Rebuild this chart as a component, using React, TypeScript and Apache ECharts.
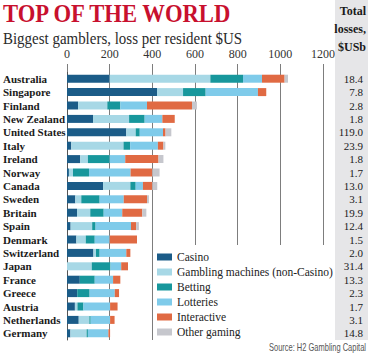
import React, { useEffect, useRef } from 'react';
import * as echarts from 'echarts';

const countries = ['Australia', 'Singapore', 'Finland', 'New Zealand', 'United States', 'Italy', 'Ireland', 'Norway', 'Canada', 'Sweden', 'Britain', 'Spain', 'Denmark', 'Switzerland', 'Japan', 'France', 'Greece', 'Austria', 'Netherlands', 'Germany'];
const totals = ['18.4', '7.8', '2.8', '1.8', '119.0', '23.9', '1.8', '1.7', '13.0', '3.1', '19.9', '12.4', '1.5', '2.0', '31.4', '13.3', '2.3', '1.7', '3.1', '14.8'];
const casino = [200, 422, 52, 122, 278, 20, 62, 9, 169, 39, 47, 17, 44, 124, 0, 60, 48, 37, 55, 16];
const machines = [472, 122, 137, 169, 44, 245, 36, 19, 128, 28, 62, 101, 44, 12, 116, 0, 0, 12, 50, 76];
const betting = [153, 106, 61, 73, 19, 31, 102, 75, 25, 86, 63, 16, 42, 17, 88, 70, 58, 28, 6, 6];
const lotteries = [89, 245, 125, 83, 109, 130, 73, 195, 34, 113, 87, 166, 70, 125, 50, 86, 118, 125, 91, 96];
const interactive = [106, 39, 211, 58, 12, 26, 156, 102, 44, 109, 94, 24, 128, 19, 32, 34, 20, 35, 21, 8];
const other = [16, 0, 23, 0, 27, 9, 23, 34, 23, 9, 19, 13, 0, 0, 0, 0, 0, 0, 0, 0];
const seriesNames = ['Casino', 'Gambling machines (non-Casino)', 'Betting', 'Lotteries', 'Interactive', 'Other gaming'];
const seriesColors = ['#1b5c88', '#a7d8e6', '#17979c', '#7fcbea', '#e06a43', '#c6c7cd'];

export default function App() {
  const ref = useRef<HTMLDivElement>(null);
  useEffect(() => {
    const chart = echarts.init(ref.current as HTMLDivElement, null, { renderer: 'svg' });
    const serif = "'Liberation Serif', 'Times New Roman', serif";
    const values = [casino, machines, betting, lotteries, interactive, other];
    chart.setOption({
      animation: false,
      backgroundColor: '#ffffff',
      grid: { left: 67, right: 45, top: 72, height: 268, outerBoundsMode: 'none' },
      xAxis: {
        type: 'value',
        position: 'top',
        min: 0,
        max: 1200,
        interval: 200,
        axisLine: { show: false },
        axisTick: { show: true, inside: false, length: 8, lineStyle: { color: '#7d7d7d' } },
        axisLabel: { margin: 12, color: '#333', fontFamily: serif, fontSize: 12, formatter: (v: number) => String(v) },
        splitLine: { show: true, lineStyle: { color: '#7d7d7d', width: 1 } },
      },
      yAxis: [
        {
          type: 'category',
          data: countries,
          inverse: true,
          axisLine: { show: true, lineStyle: { color: '#555', width: 1 } },
          axisTick: { show: false },
          axisLabel: { interval: 0, align: 'left', margin: 64, fontFamily: serif, fontWeight: 'bold', fontSize: 11, color: '#1a1a1a' },
        },
        {
          type: 'category',
          data: totals,
          inverse: true,
          position: 'right',
          z: 5,
          axisLine: { show: false },
          axisTick: { show: false },
          axisLabel: { interval: 0, align: 'right', margin: 40, fontFamily: serif, fontSize: 11, color: '#1a1a1a' },
        },
      ],
      legend: {
        data: seriesNames,
        orient: 'vertical',
        left: 152,
        top: 246,
        padding: 5,
        itemWidth: 15,
        itemHeight: 7,
        itemGap: 3,
        icon: 'rect',
        selectedMode: false,
        textStyle: { fontFamily: serif, fontSize: 11.5, lineHeight: 12, color: '#222' },
      },
      series: seriesNames.map((name, i) => ({
        name,
        type: 'bar',
        stack: 'total',
        yAxisIndex: 0,
        barWidth: 8,
        data: values[i],
        itemStyle: { color: seriesColors[i] },
      })),
      graphic: [
        { type: 'rect', z: 1, shape: { x: 335, y: 0, width: 33, height: 340 }, style: { fill: '#e6e6e8' } },
        { type: 'rect', z: 1, shape: { x: 156, y: 245, width: 178, height: 97 }, style: { fill: '#ffffff' } },
        {
          type: 'text', z: 6, x: 3, y: 13, scaleX: 0.87,
          style: { text: 'TOP OF THE WORLD', font: "bold 26px 'Liberation Serif'", fill: '#c8102e', align: 'left', textAlign: 'left', verticalAlign: 'middle', textVerticalAlign: 'middle' },
        },
        {
          type: 'text', z: 6, x: 3, y: 38, scaleX: 0.88,
          style: { text: 'Biggest gamblers, loss per resident $US', font: "17px 'Liberation Serif'", fill: '#2a2a2a', align: 'left', textAlign: 'left', verticalAlign: 'middle', textVerticalAlign: 'middle' },
        },
        {
          type: 'text', z: 6, x: 366, y: 11,
          style: { text: 'Total', font: "bold 12px 'Liberation Serif'", fill: '#1a1a1a', align: 'right', textAlign: 'right', verticalAlign: 'middle', textVerticalAlign: 'middle' },
        },
        {
          type: 'text', z: 6, x: 366, y: 29,
          style: { text: 'losses,', font: "bold 12px 'Liberation Serif'", fill: '#1a1a1a', align: 'right', textAlign: 'right', verticalAlign: 'middle', textVerticalAlign: 'middle' },
        },
        {
          type: 'text', z: 6, x: 366, y: 47,
          style: { text: '$USb', font: "bold 12px 'Liberation Serif'", fill: '#1a1a1a', align: 'right', textAlign: 'right', verticalAlign: 'middle', textVerticalAlign: 'middle' },
        },
        {
          type: 'text', z: 6, x: 366, y: 348, scaleX: 0.75,
          style: { text: 'Source: H2 Gambling Capital', font: "10px 'Liberation Sans'", fill: '#555', align: 'right', textAlign: 'right', verticalAlign: 'middle', textVerticalAlign: 'middle' },
        },
      ],
    });
    return () => chart.dispose();
  }, []);
  return <div ref={ref} style={{ position: 'fixed', left: 0, top: 0, width: 368, height: 358 }} />;
}
